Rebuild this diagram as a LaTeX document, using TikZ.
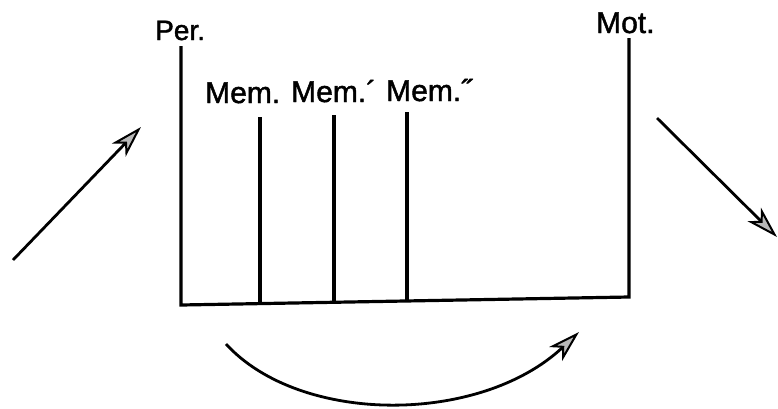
\documentclass[tikz,border=0pt]{standalone}
\usepackage{fontspec}
\setmainfont{Liberation Sans}
\newfontfamily\lblfont{Liberation Sans}[FakeBold=1.5]
\usetikzlibrary{arrows.meta}
\begin{document}
\begin{tikzpicture}[x=1pt,y=-1pt,
  bar/.style={line width=3.2pt,line cap=butt},
  lbl/.style={font=\lblfont\fontsize{30}{32}\selectfont,inner sep=0pt,anchor=base west},
  flow/.style={line width=2.8pt,-{Stealth[length=32pt,width=19pt,inset=9pt,fill=gray!55,line width=2pt]}}]
\useasboundingbox (0,0) rectangle (778,408);
% labels
\node[lbl,font=\lblfont\fontsize{28}{30}\selectfont] (per) at (155,40) {Per.};
\node[lbl] (mot) at (596,33) {Mot.};
\node[lbl] (m1) at (205,103) {Mem.};
\node[lbl] (m2) at (291,102) {Mem.´};
\node[lbl] (m3) at (386,101) {Mem.˝};
% frame
\coordinate (pt) at (181,46);
\coordinate (pb) at (181,305);
\coordinate (mt) at (629,38);
\coordinate (mb) at (629,297);
\draw[bar] (pt) -- (pb) -- (mb) -- (mt);
\coordinate (a1) at (260,117);
\coordinate (a2) at (334,115);
\coordinate (a3) at (407,112);
\draw[bar] (a1) -- (260,303.6);
\draw[bar] (a2) -- (334,302.3);
\draw[bar] (a3) -- (407,301);
% arrows
\coordinate (l0) at (13,260);
\coordinate (l1) at (141,127);
\draw[flow] (l0) -- (l1);
\coordinate (r0) at (657,118);
\coordinate (r1) at (777,237);
\draw[flow] (r0) -- (r1);
\coordinate (c0) at (226,344);
\coordinate (c1) at (579,332);
\draw[flow] (c0) .. controls (300,425) and (480,425) .. (c1);
\end{tikzpicture}
\end{document}
